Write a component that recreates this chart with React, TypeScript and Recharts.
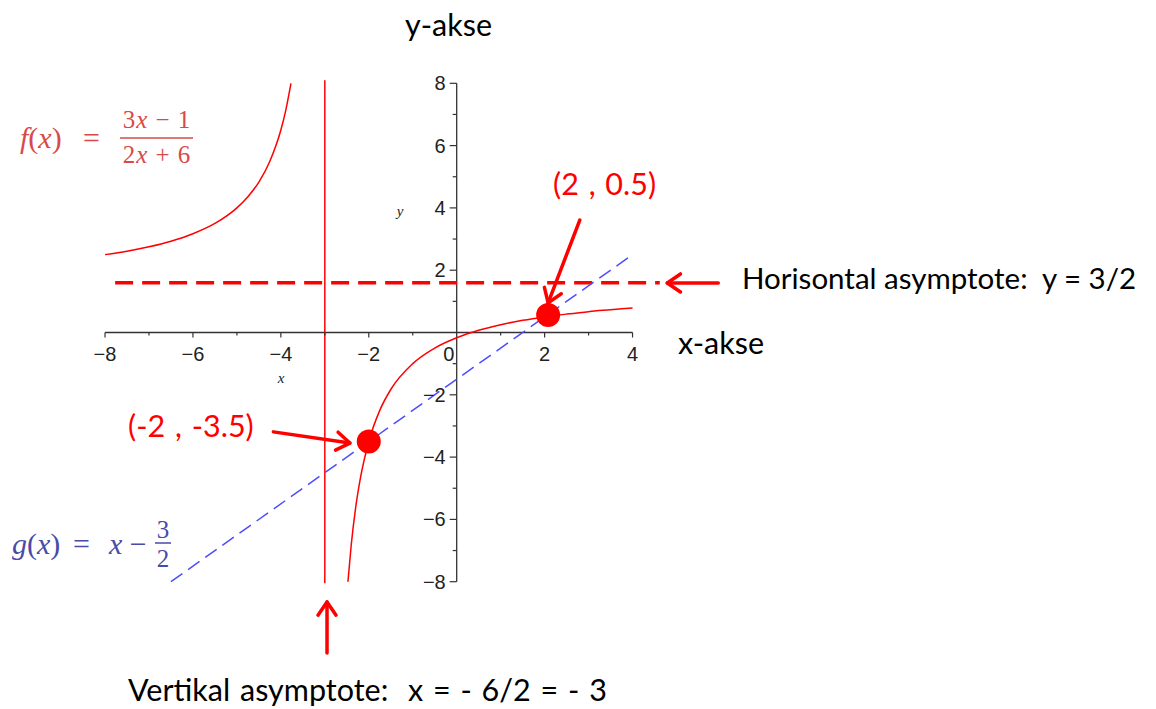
import {
  ComposedChart,
  Line,
  Scatter,
  XAxis,
  YAxis,
  ReferenceLine,
  ReferenceDot,
} from "recharts";

const W = 1156;
const H = 709;
// where the origin sits on the page and how many px one unit takes
const ORIGIN = { x: 456.7, y: 332.5 };
const UNIT = { x: 43.96, y: 31.15 };
const X_DOMAIN = [-ORIGIN.x / UNIT.x, (W - ORIGIN.x) / UNIT.x];
const Y_DOMAIN = [-(H - ORIGIN.y) / UNIT.y, ORIGIN.y / UNIT.y];

// f(x) = (3x-1)/(2x+6)
const fLeft = [
  { x: -8, y: 2.5 },
  { x: -7.5, y: 2.61 },
  { x: -7, y: 2.75 },
  { x: -6.5, y: 2.93 },
  { x: -6, y: 3.17 },
  { x: -5.5, y: 3.5 },
  { x: -5, y: 4.0 },
  { x: -4.75, y: 4.36 },
  { x: -4.5, y: 4.83 },
  { x: -4.25, y: 5.5 },
  { x: -4, y: 6.5 },
  { x: -3.9, y: 7.06 },
  { x: -3.77, y: 8 },
];
const fRight = [
  { x: -2.474, y: -8 },
  { x: -2.4, y: -6.83 },
  { x: -2.3, y: -5.64 },
  { x: -2.2, y: -4.75 },
  { x: -2, y: -3.5 },
  { x: -1.75, y: -2.5 },
  { x: -1.5, y: -1.83 },
  { x: -1, y: -1 },
  { x: -0.5, y: -0.5 },
  { x: 0, y: -0.17 },
  { x: 0.5, y: 0.07 },
  { x: 1, y: 0.25 },
  { x: 1.5, y: 0.39 },
  { x: 2, y: 0.5 },
  { x: 2.5, y: 0.59 },
  { x: 3, y: 0.67 },
  { x: 3.5, y: 0.73 },
  { x: 4, y: 0.79 },
];
// g(x) = x - 3/2
const gLine = [
  { x: -6.5, y: -8 },
  { x: 4, y: 2.5 },
];
const hAsymptote = [
  { x: -7.77, y: 1.6 },
  { x: 4.62, y: 1.6 },
];
const vAsymptoteX = -3;
const vAsymptoteY = [-8.05, 8.1];
const markedPoints = [
  { x: 2.08, y: 0.56 },
  { x: -2, y: -3.5 },
];

const xTicks = [-8, -7, -6, -5, -4, -3, -2, -1, 1, 2, 3, 4];
const yTicks = [-8, -7, -6, -5, -4, -3, -2, -1, 1, 2, 3, 4, 5, 6, 7, 8];
const xRange = [-8, 4];
const yRange = [-8, 8];

const arrows = [
  { from: { x: 2.8, y: 3.61 }, to: { x: 2.08, y: 0.95 } },
  { from: { x: -4.17, y: -3.19 }, to: { x: -2.43, y: -3.55 } },
  { from: { x: 5.95, y: 1.59 }, to: { x: 4.79, y: 1.59 } },
  { from: { x: -2.95, y: -10.29 }, to: { x: -2.95, y: -8.65 } },
];

const RED = "#ff0000";
const AXIS = "#333333";
const TICK_FONT = "'Liberation Sans', Arial, sans-serif";
const TEXT_FONT = "Lato, 'Open Sans', sans-serif";
const MATH_FONT = "'Liberation Serif', 'Times New Roman', serif";

const minus = (v: number) => (v < 0 ? "\u2212" + Math.abs(v) : String(v));

function ArrowShape(props: any) {
  const { x1, y1, x2, y2 } = props;
  const ang = Math.atan2(y2 - y1, x2 - x1);
  const len = 16;
  const spread = 0.6;
  const ax = x2 - len * Math.cos(ang - spread);
  const ay = y2 - len * Math.sin(ang - spread);
  const bx = x2 - len * Math.cos(ang + spread);
  const by = y2 - len * Math.sin(ang + spread);
  return (
    <g stroke={RED} strokeWidth={3.5} strokeLinecap="round" fill="none">
      <line x1={x1} y1={y1} x2={x2} y2={y2} />
      <polyline points={`${ax},${ay} ${x2},${y2} ${bx},${by}`} strokeLinejoin="round" />
    </g>
  );
}

function xTickShape(v: number) {
  return (p: any) => {
    const major = v % 2 === 0;
    return (
      <g>
        <line x1={p.cx} y1={p.cy} x2={p.cx} y2={p.cy + (major ? 5 : 3)} stroke={AXIS} strokeWidth={1.2} />
        {major && (
          <text x={p.cx} y={p.cy + 28} textAnchor="middle" fontFamily={TICK_FONT} fontSize={20} fill="#222">
            {minus(v)}
          </text>
        )}
      </g>
    );
  };
}

function yTickShape(v: number) {
  return (p: any) => {
    const major = v % 2 === 0;
    return (
      <g>
        <line x1={p.cx} y1={p.cy} x2={p.cx - (major ? 7 : 4)} y2={p.cy} stroke={AXIS} strokeWidth={1.2} />
        {major && (
          <text x={p.cx - 11} y={p.cy + 7} textAnchor="end" fontFamily={TICK_FONT} fontSize={20} fill="#222">
            {minus(v)}
          </text>
        )}
      </g>
    );
  };
}

const dotShape = (p: any) => <circle cx={p.cx} cy={p.cy} r={12} fill={RED} />;

export default function App() {
  const fColor = "#d84a4a";
  const gColor = "#4a4aa8";
  return (
    <div style={{ position: "absolute", left: 0, top: 0, width: W, height: H, background: "#fff" }}>
      <ComposedChart width={W} height={H} margin={{ top: 0, right: 0, bottom: 0, left: 0 }}>
        <XAxis type="number" dataKey="x" domain={X_DOMAIN} allowDataOverflow hide />
        <YAxis type="number" dataKey="y" domain={Y_DOMAIN} allowDataOverflow hide />

        {/* axes through the origin */}
        <ReferenceLine
          segment={[{ x: xRange[0], y: 0 }, { x: xRange[1], y: 0 }]}
          stroke={AXIS}
          strokeWidth={1.3}
        />
        <ReferenceLine
          segment={[{ x: 0, y: yRange[0] }, { x: 0, y: yRange[1] }]}
          stroke={AXIS}
          strokeWidth={1.3}
        />
        {xTicks.map((t) => (
          <ReferenceDot key={"xt" + t} x={t} y={0} r={0} shape={xTickShape(t)} />
        ))}
        {yTicks.map((t) => (
          <ReferenceDot key={"yt" + t} x={0} y={t} r={0} shape={yTickShape(t)} />
        ))}
        <ReferenceDot
          x={0}
          y={0}
          r={0}
          shape={(p: any) => (
            <text x={p.cx - 8} y={p.cy + 28} textAnchor="middle" fontFamily={TICK_FONT} fontSize={20} fill="#222">
              0
            </text>
          )}
        />
        <ReferenceDot
          x={-4}
          y={0}
          r={0}
          shape={(p: any) => (
            <text x={p.cx - 3} y={p.cy + 50} fontFamily={MATH_FONT} fontStyle="italic" fontSize={15} fill="#222">
              x
            </text>
          )}
        />
        <ReferenceDot
          x={0}
          y={4}
          r={0}
          shape={(p: any) => (
            <text x={p.cx - 60} y={p.cy + 8} fontFamily={MATH_FONT} fontStyle="italic" fontSize={15} fill="#222">
              y
            </text>
          )}
        />

        {/* asymptotes */}
        <ReferenceLine
          segment={[{ x: vAsymptoteX, y: vAsymptoteY[0] }, { x: vAsymptoteX, y: vAsymptoteY[1] }]}
          stroke={RED}
          strokeWidth={1.5}
        />
        <Line
          data={hAsymptote}
          dataKey="y"
          type="linear"
          stroke={RED}
          strokeWidth={3.5}
          strokeDasharray="18 9"
          dot={false}
          activeDot={false}
          isAnimationActive={false}
        />

        <Line
          data={gLine}
          dataKey="y"
          type="linear"
          stroke="#4d4dff"
          strokeWidth={1.5}
          strokeDasharray="14 7"
          dot={false}
          activeDot={false}
          isAnimationActive={false}
        />
        <Line
          data={fLeft}
          dataKey="y"
          type="monotone"
          stroke={RED}
          strokeWidth={1.5}
          dot={false}
          activeDot={false}
          isAnimationActive={false}
        />
        <Line
          data={fRight}
          dataKey="y"
          type="monotone"
          stroke={RED}
          strokeWidth={1.5}
          dot={false}
          activeDot={false}
          isAnimationActive={false}
        />
        <Scatter data={markedPoints} dataKey="y" shape={dotShape} activeShape={dotShape} isAnimationActive={false} />

        {arrows.map((a, i) => (
          <ReferenceLine key={"ar" + i} segment={[a.from, a.to]} shape={ArrowShape} ifOverflow="visible" />
        ))}
      </ComposedChart>

      <svg
        width={W}
        height={H}
        style={{ position: "absolute", left: 0, top: 0, pointerEvents: "none" }}
      >
        <g fontFamily={TEXT_FONT} fontSize={30.5} fill="#000">
          <text x={405} y={36}>y-akse</text>
          <text x={678} y={354}>x-akse</text>
          <text x={742} y={289} fontSize={29.5} xmlSpace="preserve">Horisontal asymptote:  y = 3/2</text>
          <text x={128} y={701} wordSpacing={2} xmlSpace="preserve">Vertikal asymptote:  x = - 6/2 = - 3</text>
          <text x={553} y={195} fill={RED} wordSpacing={2}>(2 , 0.5)</text>
          <text x={128} y={437} fill={RED} wordSpacing={2}>(-2 , -3.5)</text>
        </g>

        <g fontFamily={MATH_FONT} fill={fColor}>
          <text x={20} y={148} fontSize={30}>
            <tspan fontStyle="italic">f</tspan>(<tspan fontStyle="italic">x</tspan>)
          </text>
          <text x={83} y={148} fontSize={30}>=</text>
          <text x={157} y={128} fontSize={25} letterSpacing={1} textAnchor="middle" xmlSpace="preserve">
            3<tspan fontStyle="italic">x</tspan> {"\u2212"} 1
          </text>
          <line x1={120} y1={138} x2={193} y2={138} stroke={fColor} strokeWidth={1.5} />
          <text x={157} y={163} fontSize={25} letterSpacing={1} textAnchor="middle" xmlSpace="preserve">
            2<tspan fontStyle="italic">x</tspan> + 6
          </text>
        </g>

        <g fontFamily={MATH_FONT} fill={gColor}>
          <text x={12} y={554} fontSize={30}>
            <tspan fontStyle="italic">g</tspan>(<tspan fontStyle="italic">x</tspan>)
          </text>
          <text x={73} y={554} fontSize={30}>=</text>
          <text x={109} y={554} fontSize={30} xmlSpace="preserve">
            <tspan fontStyle="italic">x</tspan> {"\u2212"}
          </text>
          <text x={163} y={538} fontSize={25} textAnchor="middle">3</text>
          <line x1={155} y1={543} x2={171} y2={543} stroke={gColor} strokeWidth={1.5} />
          <text x={163} y={567} fontSize={25} textAnchor="middle">2</text>
        </g>
      </svg>
    </div>
  );
}
